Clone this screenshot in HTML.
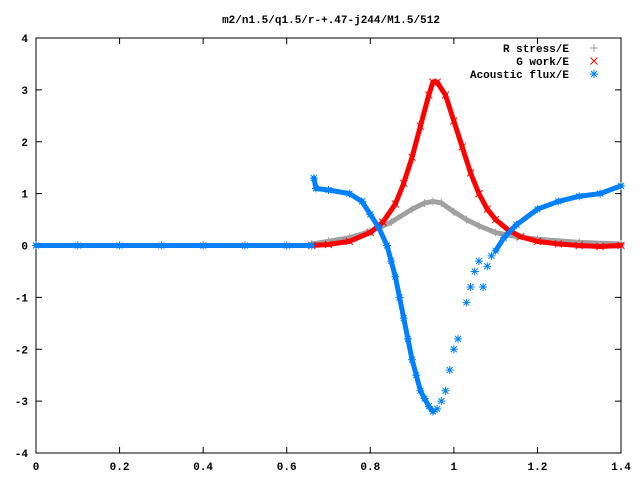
<!DOCTYPE html>
<html><head><meta charset="utf-8"><style>
body{margin:0;background:#fff}
svg text{font-family:"Liberation Mono",monospace;font-size:11px;font-weight:bold;fill:#000}
</style></head><body>
<svg id="chart" width="640" height="480" xmlns="http://www.w3.org/2000/svg">
<text x="331" y="23" text-anchor="middle">m2/n1.5/q1.5/r-+.47-j244/M1.5/512</text>
<rect x="36" y="38" width="585" height="415" fill="none" stroke="#000" stroke-width="1"/>
<g id="ticks"></g>
<g id="series"></g>
<g>
<text x="569" y="52" text-anchor="end">R stress/E</text>
<text x="569" y="65" text-anchor="end">G work/E</text>
<text x="569" y="78" text-anchor="end">Acoustic flux/E</text>
<g id="legmarks"></g>
</g>
</svg>
<script>
const xTicks=[0,0.2,0.4,0.6,0.8,1,1.2,1.4];
const xTickLabels=["0","0.2","0.4","0.6","0.8","1","1.2","1.4"];
const yTicks=[-4,-3,-2,-1,0,1,2,3,4];
const yTickLabels=["-4","-3","-2","-1","0","1","2","3","4"];
const rX=[0.66,0.7,0.75,0.8,0.85,0.9,0.93,0.95,0.97,1.0,1.03,1.06,1.1,1.15,1.2,1.3,1.4];
const rY=[0.03,0.08,0.15,0.27,0.45,0.7,0.82,0.85,0.82,0.65,0.5,0.38,0.25,0.17,0.12,0.06,0.03];
const gX=[0.66,0.7,0.75,0.8,0.83,0.86,0.88,0.9,0.92,0.94,0.95,0.96,0.98,1.0,1.02,1.04,1.06,1.08,1.1,1.13,1.16,1.2,1.25,1.3,1.35,1.4];
const gY=[0,0.02,0.08,0.25,0.45,0.8,1.2,1.7,2.3,2.9,3.15,3.15,2.9,2.4,1.9,1.4,1.0,0.7,0.5,0.3,0.17,0.08,0.03,0,-0.02,0];
const aX=[0,0.1,0.2,0.3,0.4,0.5,0.6,0.66,0.665,0.67,0.7,0.75,0.78,0.8,0.82,0.84,0.85,0.86,0.87,0.88,0.89,0.9,0.91,0.92,0.93,0.94,0.95,0.96,0.97,0.98,0.99,1.0,1.01,1.03,1.04,1.05,1.06,1.07,1.08,1.09,1.1,1.12,1.15,1.2,1.25,1.3,1.35,1.4];
const aY=[0,0,0,0,0,0,0,0,1.3,1.1,1.07,1.0,0.85,0.6,0.35,0,-0.3,-0.6,-1.0,-1.4,-1.8,-2.2,-2.5,-2.8,-2.95,-3.1,-3.2,-3.15,-3.0,-2.8,-2.4,-2.0,-1.8,-1.1,-0.8,-0.5,-0.3,-0.8,-0.4,-0.2,-0.1,0.15,0.4,0.7,0.85,0.95,1.0,1.15];
const NS="http://www.w3.org/2000/svg";
const X0=36,X1=621,YT=38,YB=453;
function sx(v){return X0+(v-0)/1.4*(X1-X0);}
function sy(v){return YB-(v+4)/8*(YB-YT);}
function mk(tag,attrs,parent){const e=document.createElementNS(NS,tag);for(const k in attrs)e.setAttribute(k,attrs[k]);parent.appendChild(e);return e;}
const tg=document.getElementById('ticks');
xTicks.forEach((v,i)=>{
 const t=mk('line',{x1:sx(v),x2:sx(v),y1:YB,y2:YB-6,stroke:'#000'},tg);
 
 
 const t2=mk('line',{x1:sx(v),x2:sx(v),y1:YT,y2:YT+6,stroke:'#000'},tg);
 
 
 const l=mk('text',{x:sx(v),y:470,'text-anchor':'middle'},tg);l.textContent=xTickLabels[i];
 
 
});
yTicks.forEach((v,i)=>{
 const t=mk('line',{x1:X0,x2:X0+6,y1:sy(v),y2:sy(v),stroke:'#000'},tg);
 
 
 const t2=mk('line',{x1:X1,x2:X1-6,y1:sy(v),y2:sy(v),stroke:'#000'},tg);
 
 
 const l=mk('text',{x:28,y:sy(v)+4,'text-anchor':'end'},tg);l.textContent=yTickLabels[i];
 
 
});
const sg=document.getElementById('series');
function marker(type,x,y,c,p){
 const g=mk('g',{stroke:c,'stroke-width':1,fill:'none'},p);
 if(type==='+'){mk('path',{d:`M${x-4},${y}h8M${x},${y-4}v8`},g);}
 else if(type==='x'){mk('path',{d:`M${x-3.5},${y-3.5}l7,7M${x-3.5},${y+3.5}l7,-7`},g);}
 else{mk('path',{d:`M${x-4},${y}h8M${x},${y-4}v8M${x-3},${y-3}l6,6M${x-3},${y+3}l6,-6`},g);}
 return g;
}
function drawSeries(xs,ys,c,type,name,w,breaks){
 const g=mk('g',{},sg);
 
 
 for(let i=1;i<xs.length;i++){
  let ok=true;
  if(breaks){
   if(Math.abs(ys[i]-ys[i-1])>0.6) ok=false;
   if(xs[i]>0.955 && xs[i-1]<1.1) ok=false;
  }
  if(ok){
   mk('line',{x1:sx(xs[i-1]),y1:sy(ys[i-1]),x2:sx(xs[i]),y2:sy(ys[i]),stroke:c,'stroke-width':w,'stroke-linecap':'round'},g);
  }
 }
 xs.forEach((v,i)=>{const m=marker(type,sx(v),sy(ys[i]),c,g);
  
  });
}
drawSeries(rX,rY,'#a0a0a0','+','r-stress-series',5,false);
drawSeries(gX,gY,'#ff0000','x','g-work-series',5,false);
drawSeries(aX,aY,'#0080ff','*','acoustic-flux-series',5,true);
const lm=document.getElementById('legmarks');
let m1=marker('+',594,48,'#a0a0a0',lm);


let m2=marker('x',594,61,'#ff0000',lm);


let m3=marker('*',594,74,'#0080ff',lm);


</script>
</body></html>
